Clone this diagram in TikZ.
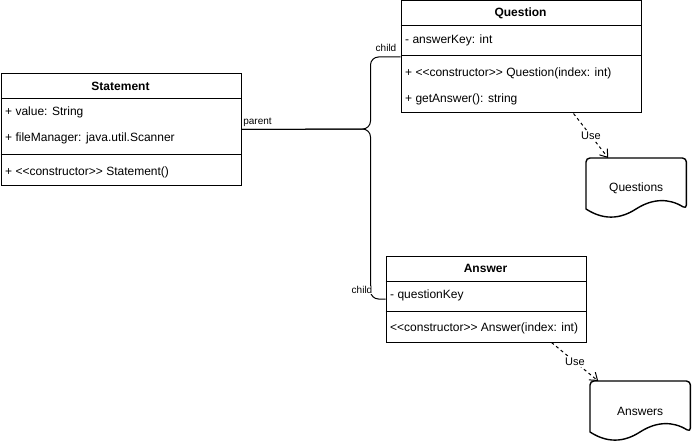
\documentclass[tikz,border=0pt]{standalone}
\usepackage{fontspec}
\newfontfamily\arialf{Liberation Sans}
\usetikzlibrary{arrows.meta,calc}
\tikzset{
  cls/.style={draw, line width=1pt, rectangle, inner sep=0pt, anchor=north west},
  ttl/.style={font=\arialf\fontsize{12}{14}\selectfont\bfseries, inner sep=0pt},
  mem/.style={font=\arialf\fontsize{12}{14}\selectfont, anchor=west, inner sep=0pt},
  lbl/.style={font=\arialf\fontsize{10}{12}\selectfont, inner sep=1pt},
  uselbl/.style={font=\arialf\fontsize{11}{13}\selectfont, fill=white, inner sep=1pt},
  rel/.style={line width=1pt, rounded corners=8pt},
  sepline/.style={line width=1pt},
  usedep/.style={line width=1pt, dash pattern=on 3pt off 3pt, -{Straight Barb[length=7pt,width=10pt,line width=1pt]}},
  docnode/.style={minimum width=100pt, minimum height=60pt, inner sep=0pt, anchor=north west, font=\arialf\fontsize{12}{14}\selectfont},
  docline/.style={line width=1.4pt, line join=round}
}
\newcommand\mydocshape[1]{%
  \draw[docline] ($(#1.north west)+(0,51)$) [rounded corners=4pt] -- (#1.north west) -- (#1.north east) -- ($(#1.north east)+(0,51)$) [sharp corners]
    .. controls ($(#1.north west)+(83.3,40.2)$) and ($(#1.north west)+(66.7,40.2)$) .. ($(#1.north west)+(50,51)$)
    .. controls ($(#1.north west)+(33.3,61.8)$) and ($(#1.north west)+(16.7,61.8)$) .. ($(#1.north west)+(0,51)$) -- cycle;}
\begin{document}
\begin{tikzpicture}[x=1pt,y=-1pt]
\useasboundingbox (0,0) rectangle (692,443);
\fill[white] (0,0) rectangle (692,443);

% Statement
\node[cls, minimum width=240pt, minimum height=112pt] (stmt) at (0.5,73) {};
\draw[sepline] (0.5,99) -- (240.5,99);
\draw[sepline] (0.5,155) -- (240.5,155);
\node[ttl] (stmtT) at (120.5,86) {Statement};
\node[mem] (stmtA1) at (5,112) {+ value: String};
\node[mem] (stmtA2) at (5,138) {+ fileManager: java.util.Scanner};
\node[mem] (stmtM1) at (5,172) {+ <<constructor>> Statement()};

% Question
\node[cls, minimum width=240pt, minimum height=112pt] (q) at (400.5,0.5) {};
\draw[sepline] (400.5,26) -- (640.5,26);
\draw[sepline] (400.5,56) -- (640.5,56);
\node[ttl] (qT) at (520.5,13.5) {Question};
\node[mem] (qA1) at (405,40) {- answerKey: int};
\node[mem] (qM1) at (405,73) {+ <<constructor>> Question(index: int)};
\node[mem] (qM2) at (405,99) {+ getAnswer(): string};

% Answer
\node[cls, minimum width=200pt, minimum height=86pt] (ans) at (385.5,255.5) {};
\draw[sepline] (385.5,281.5) -- (585.5,281.5);
\draw[sepline] (385.5,311) -- (585.5,311);
\node[ttl] (aT) at (485.5,268.5) {Answer};
\node[mem] (aA1) at (390,295) {- questionKey};
\node[mem] (aM1) at (390,328) {<<constructor>> Answer(index: int)};

% Documents
\node[docnode] (dq) at (586,158) {Questions};
\mydocshape{dq}
\node[docnode] (da) at (590,381) {Answers};
\mydocshape{da}

% Association connectors
\coordinate (jn) at (370.5,129);
\draw[rel] (stmt.east) -- (jn) |- (q.west);
\draw[rel] (stmt.east) -- (jn) |- (ans.west);
\node[lbl] (parentL) at (257.5,122) {parent};
\node[lbl] (childQ) at (386,48) {child};
\node[lbl, fill=white, inner sep=0.5pt] (childA) at (362,290) {child};

% Use dependencies
\draw[usedep] ([xshift=-68pt]q.south east) -- node[uselbl] (useQ) {Use} ([xshift=-28pt]dq.north);
\draw[usedep] ([xshift=-35pt]ans.south east) -- node[uselbl] (useA) {Use} ([xshift=-42pt]da.north);
\end{tikzpicture}
\end{document}
